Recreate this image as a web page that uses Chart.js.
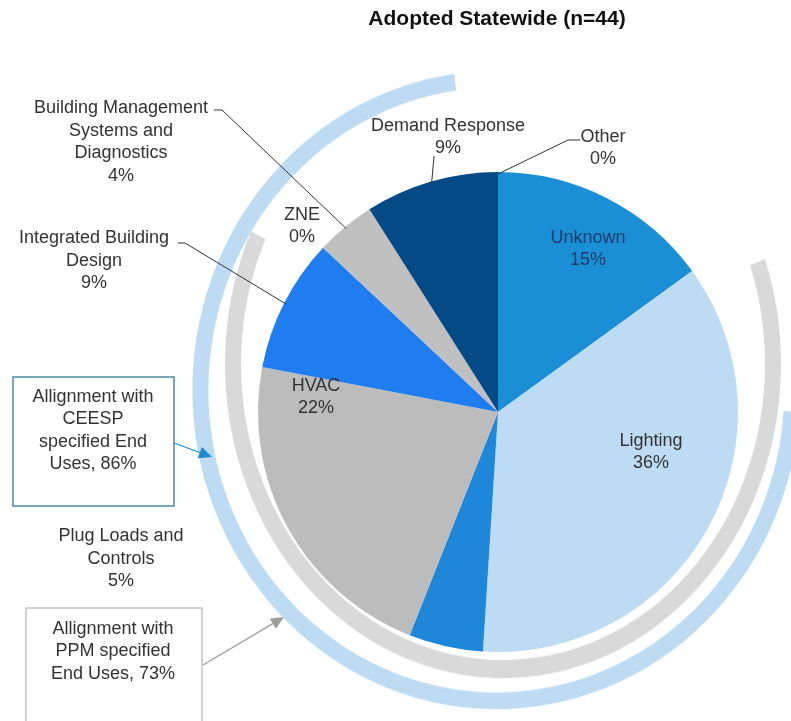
<!DOCTYPE html>
<html>
<head>
<meta charset="utf-8">
<title>Adopted Statewide (n=44)</title>
<script src="https://cdn.jsdelivr.net/npm/chart.js@4.4.1/dist/chart.umd.min.js"></script>
<style>
  html, body { margin: 0; padding: 0; background: #fff; overflow: hidden; }
  .stage { position: relative; width: 791px; height: 721px; overflow: hidden; }
  .stage canvas { position: absolute; }
  #ringCeesp { left: 192px; top: 86px; transform: scaleY(1.05); }
  #ringPpm { left: 225px; top: 86px; transform: scaleY(1.13); }
  #pie { left: 0; top: 0; }
</style>
</head>
<body>
<div class="stage">
  <canvas id="ringCeesp" width="608" height="608"></canvas>
  <canvas id="ringPpm" width="556" height="556"></canvas>
  <canvas id="pie" width="791" height="721"></canvas>
</div>
<script>
// data
const chartTitle = 'Adopted Statewide (n=44)';
const categories = ['Other', 'Unknown', 'Lighting', 'Plug Loads and Controls', 'HVAC',
  'Integrated Building Design', 'ZNE', 'Building Management Systems and Diagnostics', 'Demand Response'];
const shares = [0, 15, 36, 5, 22, 9, 0, 4, 9];
const alignNames = ['CEESP', 'PPM'];
const alignShares = [86, 73];

// look
const sliceColors = ['#1a8fd6', '#1a8fd6', '#bddcf3', '#1e87d9', '#bcbcbc', '#1f7df0', '#c0c0c0', '#c0c0c0', '#034a86'];
const labelColors = ['#333', '#1c3d6b', '#333', '#333', '#333', '#333', '#333', '#333', '#333'];
const labelLines = [['Other'], ['Unknown'], ['Lighting'], ['Plug Loads and', 'Controls'], ['HVAC'],
  ['Integrated Building', 'Design'], ['ZNE'], ['Building Management', 'Systems and', 'Diagnostics'], ['Demand Response']];
// label block centre, relative to pie centre
const labelOffsets = [[105, -264], [90, -163], [153, 40], [-377, 147], [-182, -15],
  [-404, -151], [-196, -186], [-377, -270], [-50, -275]];
// leader line points, relative to label centre (first point is the slice edge)
const leaders = [[[-35, -8], [-23, -8]], null, null, null, null,
  [[91, -18], [84, -18]], null, [[101, -32], [93, -32]], [[-14, 19]]];
const labelFont = '18px "Liberation Sans", Arial, sans-serif';
const lineH = 22.5;

const callouts = [
  { lines: ['Allignment with', alignNames[0], 'specified End', 'Uses, ' + alignShares[0] + '%'],
    box: [13, 377, 161, 129], textX: 93, textY: 397, border: '#4b8aa6', bw: 1.5,
    arrow: [174, 443, 212, 457], arrowColor: '#1b8cd0' },
  { lines: ['Allignment with', alignNames[1] + ' specified', 'End Uses, ' + alignShares[1] + '%'],
    box: [26, 608, 176, 130], textX: 113, textY: 629, border: '#a6a6a6', bw: 1,
    arrow: [203, 665, 284, 617], arrowColor: '#9e9e9e' }
];

function drawArrow(ctx, x1, y1, x2, y2, color) {
  const a = Math.atan2(y2 - y1, x2 - x1);
  const len = 13, half = 6;
  const bx = x2 - Math.cos(a) * len, by = y2 - Math.sin(a) * len;
  ctx.strokeStyle = color;
  ctx.fillStyle = color;
  ctx.lineWidth = 1.3;
  ctx.beginPath();
  ctx.moveTo(x1, y1);
  ctx.lineTo(bx, by);
  ctx.stroke();
  ctx.beginPath();
  ctx.moveTo(x2, y2);
  ctx.lineTo(bx - Math.sin(a) * half, by + Math.cos(a) * half);
  ctx.lineTo(bx + Math.sin(a) * half, by - Math.cos(a) * half);
  ctx.closePath();
  ctx.fill();
}

const annotate = {
  id: 'annotate',
  afterDraw(chart) {
    const ctx = chart.ctx;
    const meta = chart.getDatasetMeta(0);
    const cx = meta.data[0].x, cy = meta.data[0].y;
    ctx.save();
    ctx.textAlign = 'center';
    ctx.textBaseline = 'middle';

    ctx.font = 'bold 21px "Liberation Sans", Arial, sans-serif';
    ctx.fillStyle = '#111';
    ctx.fillText(chartTitle, 497, 19);

    ctx.font = labelFont;
    meta.data.forEach((arc, i) => {
      const lx = cx + labelOffsets[i][0], ly = cy + labelOffsets[i][1];
      if (leaders[i]) {
        const mid = (arc.startAngle + arc.endAngle) / 2;
        ctx.beginPath();
        ctx.moveTo(cx + Math.cos(mid) * (arc.outerRadius - 2), cy + Math.sin(mid) * (arc.outerRadius - 2));
        leaders[i].forEach(p => ctx.lineTo(lx + p[0], ly + p[1]));
        ctx.strokeStyle = '#333';
        ctx.lineWidth = 1;
        ctx.stroke();
      }
      const lines = labelLines[i].concat(shares[i] + '%');
      ctx.fillStyle = labelColors[i];
      lines.forEach((t, j) => ctx.fillText(t, lx, ly + (j - (lines.length - 1) / 2) * lineH));
    });

    callouts.forEach(c => {
      ctx.strokeStyle = c.border;
      ctx.lineWidth = c.bw;
      ctx.strokeRect(c.box[0], c.box[1], c.box[2], c.box[3]);
      ctx.fillStyle = '#333';
      c.lines.forEach((t, j) => ctx.fillText(t, c.textX, c.textY + j * lineH));
      drawArrow(ctx, c.arrow[0], c.arrow[1], c.arrow[2], c.arrow[3], c.arrowColor);
    });
    ctx.restore();
  }
};

new Chart(document.getElementById('pie'), {
  type: 'pie',
  data: {
    labels: categories,
    datasets: [{ data: shares, backgroundColor: sliceColors, borderWidth: 0 }]
  },
  options: {
    responsive: false,
    animation: false,
    events: [],
    layout: { padding: { left: 258, right: 53, top: 172, bottom: 69 } },
    plugins: { legend: { display: false }, tooltip: { enabled: false } }
  },
  plugins: [annotate]
});

function ring(id, name, value, color, inner, rotation, sweep) {
  return new Chart(document.getElementById(id), {
    type: 'doughnut',
    data: {
      labels: [name, 'rest'],
      datasets: [{ data: [value, 100 - value], backgroundColor: [color, 'rgba(0,0,0,0)'], borderWidth: 0 }]
    },
    options: {
      responsive: false,
      animation: false,
      events: [],
      cutout: inner,
      rotation: rotation,
      circumference: sweep,
      plugins: { legend: { display: false }, tooltip: { enabled: false } }
    }
  });
}

ring('ringCeesp', alignNames[0], alignShares[0], '#bddcf3', 288, 94, 300);
ring('ringPpm', alignNames[1], alignShares[1], '#d9d9d9', 262, 70.5, 307.5);
</script>
</body>
</html>
